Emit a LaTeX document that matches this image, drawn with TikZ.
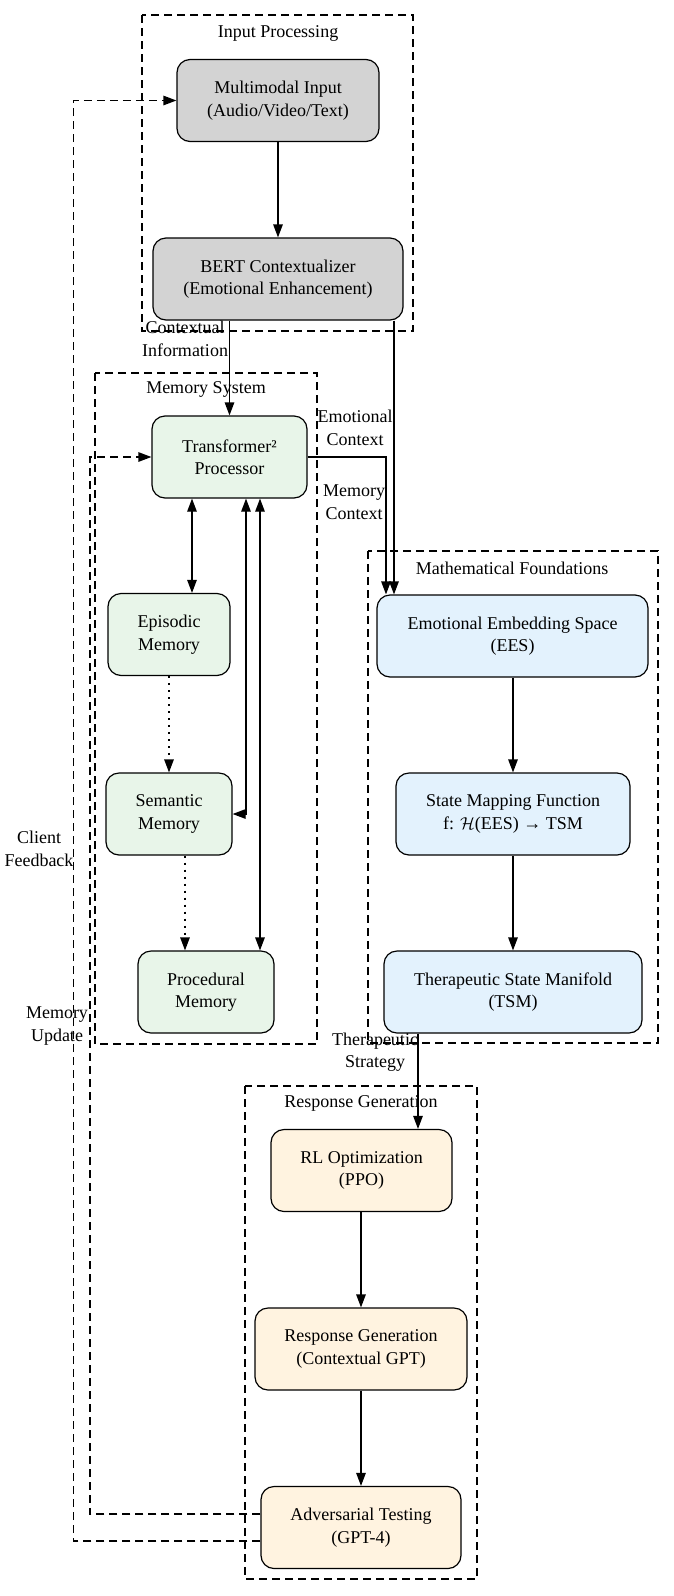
\documentclass[tikz,border=0pt]{standalone}
\usepackage{fontspec}
\setmainfont{Liberation Serif}
\usetikzlibrary{arrows.meta}
\definecolor{ipgray}{HTML}{D3D3D3}
\definecolor{memgreen}{HTML}{E8F5E9}
\definecolor{mathblue}{HTML}{E3F2FD}
\definecolor{resporange}{HTML}{FFF3E0}
\begin{document}
\begin{tikzpicture}[x=1pt, y=-1pt, >={Triangle[length=13pt,width=9.5pt]}, font=\fontsize{18}{22.5}\selectfont,
    block/.style={draw, rounded corners=13pt, line width=1.2pt, minimum height=82pt, align=center, inner sep=0pt},
    ipnode/.style={block, fill=ipgray},
    memnode/.style={block, fill=memgreen},
    mathnode/.style={block, fill=mathblue},
    respnode/.style={block, fill=resporange},
    cluster/.style={draw, line width=1.1pt, dash pattern=on 8pt off 5pt},
    link/.style={draw, line width=1.2pt, ->},
    fb/.style={link, dash pattern=on 8pt off 5pt},
    dotlink/.style={link, dash pattern=on 2pt off 5pt},
    lbl/.style={align=center, inner sep=0pt}]
    \useasboundingbox (0,0) rectangle (674,1596);
    \draw[cluster] (142,15) rectangle (413,331);
    \draw[cluster] (95,373) rectangle (317,1044);
    \draw[cluster] (368,551) rectangle (658,1043);
    \draw[cluster] (245,1086) rectangle (477,1579);
    \node (inlabel) [lbl] at (278,33) {Input Processing};
    \node (memlabel) [lbl] at (206,389) {Memory System};
    \node (mathlabel) [lbl] at (512,568) {Mathematical Foundations};
    \node (resplabel) [lbl] at (361,1103) {Response Generation};
    \node (input) [ipnode, minimum width=202pt] at (278,100.5) {Multimodal Input\\(Audio/Video/Text)};
    \node (bert) [ipnode, minimum width=250pt] at (278,279) {BERT Contextualizer\\(Emotional Enhancement)};
    \node (trans) [memnode, minimum width=155pt] at (229.5,457) {Transformer²\\Processor};
    \node (episodic) [memnode, minimum width=122pt] at (169,634.5) {Episodic\\Memory};
    \node (semantic) [memnode, minimum width=126pt] at (169,814) {Semantic\\Memory};
    \node (procedural) [memnode, minimum width=136pt] at (206,992) {Procedural\\Memory};
    \node (ees) [mathnode, minimum width=271pt] at (512.5,636) {Emotional Embedding Space\\(EES)};
    \node (smf) [mathnode, minimum width=234pt] at (513,814) {State Mapping Function\\f: $\mathcal{H}$(EES) → TSM};
    \node (tsm) [mathnode, minimum width=258pt] at (513,992) {Therapeutic State Manifold\\(TSM)};
    \node (rl) [respnode, minimum width=181pt] at (361.5,1170.5) {RL Optimization\\(PPO)};
    \node (respgen) [respnode, minimum width=212pt] at (361,1349) {Response Generation\\(Contextual GPT)};
    \node (adv) [respnode, minimum width=200pt] at (361,1527.5) {Adversarial Testing\\(GPT-4)};
    \draw[link] (input) -- (bert);
    \draw[link] (bert.south -| trans.north) -- (trans.north);
    \draw[link] ([xshift=116pt]bert.south) -- ([xshift=-118.5pt]ees.north);
    \draw[link] (trans.east) -| ([xshift=-126.5pt]ees.north);
    \draw[link, <->] ([xshift=-37.5pt]trans.south) -- ([xshift=23pt]episodic.north);
    \draw[link, <->] ([xshift=16.5pt]trans.south) |- (semantic.east);
    \draw[link, <->] ([xshift=30.5pt]trans.south) -- ([xshift=54pt]procedural.north);
    \draw[dotlink] (episodic) -- (semantic);
    \draw[dotlink] ([xshift=16pt]semantic.south) -- ([xshift=-21pt]procedural.north);
    \draw[link] (ees.south -| smf.north) -- (smf.north);
    \draw[link] (smf) -- (tsm);
    \draw[link] ([xshift=-95pt]tsm.south) -- ([xshift=56.5pt]rl.north);
    \draw[link] (rl.south -| respgen.north) -- (respgen.north);
    \draw[link] (respgen) -- (adv);
    \draw[fb] ([yshift=13.5pt]adv.west) -| ([xshift=-61.5pt]trans.west) -- (trans.west);
    \draw[fb] ([yshift=-13.5pt]adv.west) -| ([xshift=-103pt]input.west) -- (input.west);
    \node (ctxinfo) [lbl] at (185,339) {Contextual\\Information};
    \node (emoctx) [lbl] at (355,428) {Emotional\\Context};
    \node (memctx) [lbl] at (354,502) {Memory\\Context};
    \node (clientfb) [lbl] at (39,849) {Client\\Feedback};
    \node (memupd) [lbl] at (57,1026) {Memory\\Update};
    \node (therstrat) [lbl] at (375,1052) {Therapeutic\\Strategy};
\end{tikzpicture}
\end{document}
